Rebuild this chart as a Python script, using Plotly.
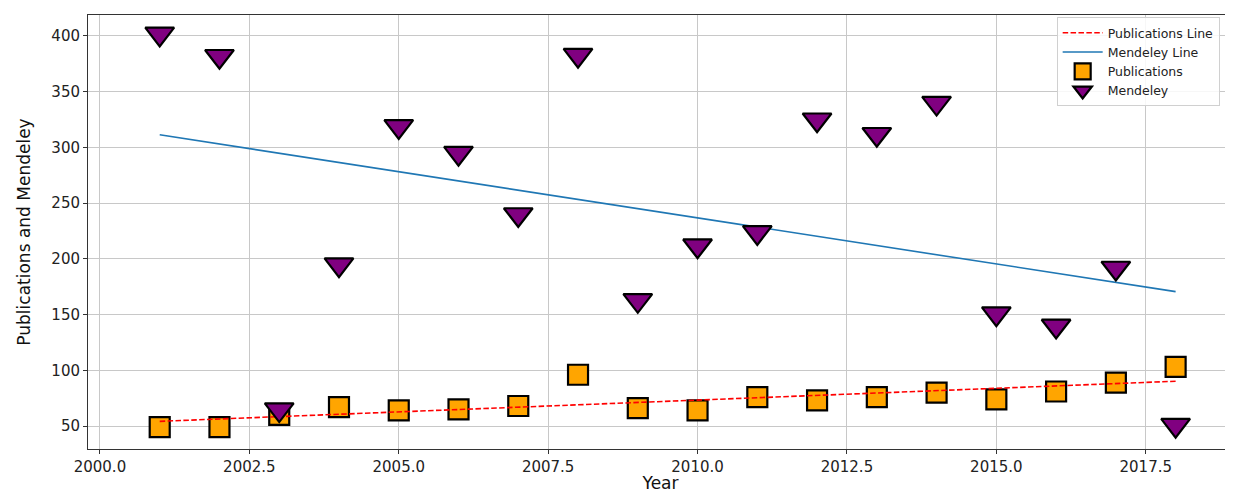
import numpy as np
import plotly.graph_objects as go

years = list(range(2001, 2019))
publications = [49, 49, 60, 67, 64, 65, 68, 96, 66, 64, 76, 73, 76, 80, 74, 81, 89, 103]
mendeley = [399, 379, 62, 192, 316, 292, 237, 380, 160, 209, 221, 322, 309, 337, 148, 137, 189, 48]

x = np.array(years, dtype=float)
pub_fit = np.polyval(np.polyfit(x, publications, 1), x)
men_fit = np.polyval(np.polyfit(x, mendeley, 1), x)

FONT = "DejaVu Sans"
Y_RANGE = [29.4, 418.8]
# plotly's triangle-down glyph sits ~r/4 below its anchor; a twin axis
# shifted by that amount centres the glyph on its value like matplotlib's
TRI_SHIFT = 2.8

fig = go.Figure()
fig.add_trace(go.Scatter(
    x=years, y=publications, mode="markers", name="Publications",
    marker=dict(symbol="square", size=20, color="#FFA500",
                line=dict(color="black", width=2.2)),
    legendrank=3,
))
fig.add_trace(go.Scatter(
    x=years, y=mendeley, mode="markers", name="Mendeley", yaxis="y2",
    marker=dict(symbol="triangle-down", size=25, color="#800080",
                line=dict(color="black", width=2.2)),
    legendrank=4,
))
fig.add_trace(go.Scatter(
    x=years, y=pub_fit, mode="lines", name="Publications Line",
    line=dict(color="#FF0000", width=1.6, dash="5.5px,2.4px"),
    legendrank=1,
))
fig.add_trace(go.Scatter(
    x=years, y=men_fit, mode="lines", name="Mendeley Line",
    line=dict(color="#1f77b4", width=1.6),
    legendrank=2,
))

# the page body adds an 8px offset, so the figure is 8px smaller
fig.update_layout(
    width=1225, height=485,
    margin=dict(l=80, r=0, t=7, b=44, autoexpand=False),
    paper_bgcolor="white", plot_bgcolor="white",
    font=dict(family=FONT, size=15, color="#222222"),
    showlegend=True,
    legend=dict(
        x=0.846, y=0.995, xanchor="left", yanchor="top",
        bgcolor="rgba(255,255,255,0.85)", bordercolor="#d0d0d0", borderwidth=1,
        font=dict(family=FONT, size=12.5, color="#222222"),
        tracegroupgap=0, itemwidth=40,
    ),
    xaxis=dict(
        range=[1999.8, 2018.96], automargin=False,
        tick0=2000, dtick=2.5, tickformat=".1f",
        showgrid=True, gridcolor="#c8c8c8", gridwidth=1,
        showline=True, linecolor="#333333", linewidth=1, mirror=True,
        ticks="outside", ticklen=4, tickcolor="#333333",
        zeroline=False,
        title=dict(text="Year", font=dict(family=FONT, size=17, color="#111111"), standoff=2),
    ),
    yaxis=dict(
        range=Y_RANGE, automargin=False,
        tick0=0, dtick=50,
        showgrid=True, gridcolor="#c8c8c8", gridwidth=1,
        showline=True, linecolor="#333333", linewidth=1, mirror=False,
        ticks="outside", ticklen=4, tickcolor="#333333",
        zeroline=False,
        title=dict(text="Publications and Mendeley", font=dict(family=FONT, size=17, color="#111111"), standoff=16),
    ),
    yaxis2=dict(
        overlaying="y", range=[Y_RANGE[0] - TRI_SHIFT, Y_RANGE[1] - TRI_SHIFT],
        visible=False, showgrid=False, zeroline=False,
    ),
)

fig.write_html("out.html")
